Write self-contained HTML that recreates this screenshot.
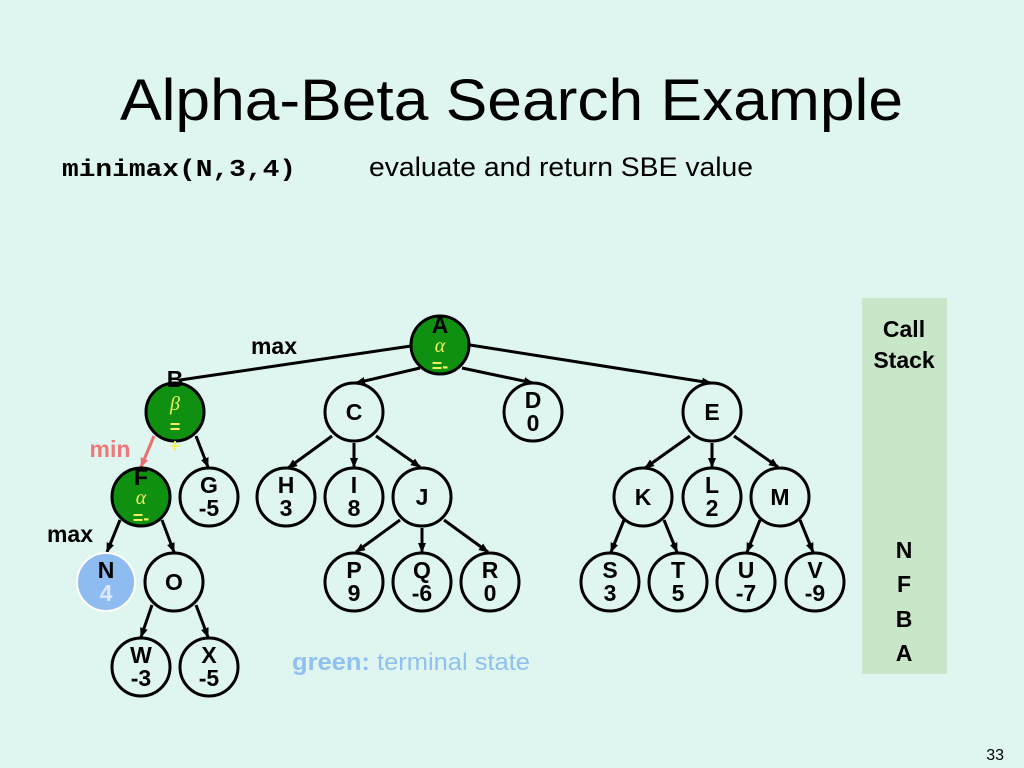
<!DOCTYPE html>
<html><head><meta charset="utf-8"><style>
html,body{margin:0;padding:0;background:#dff5f0;}
svg{display:block;}
text{font-family:"Liberation Sans",sans-serif;}
.n{font-weight:700;font-size:23px;text-anchor:middle;fill:#000;}
</style></head><body>
<svg width="1024" height="768" viewBox="0 0 1024 768" xmlns="http://www.w3.org/2000/svg">
<defs>
<marker id="ar" markerWidth="10" markerHeight="10" refX="9" refY="5" orient="auto" markerUnits="userSpaceOnUse"><path d="M0,1 L10,5 L0,9 Z" fill="#000"/></marker>
<marker id="arr" markerWidth="10" markerHeight="10" refX="9" refY="5" orient="auto" markerUnits="userSpaceOnUse"><path d="M0,1 L10,5 L0,9 Z" fill="#e87070"/></marker>
</defs>
<rect width="1024" height="768" fill="#dff5f0"/>
<text x="120" y="120" font-size="58" textLength="783" lengthAdjust="spacingAndGlyphs">Alpha-Beta Search Example</text>
<text x="62" y="176" font-weight="bold" font-size="24" textLength="234" lengthAdjust="spacingAndGlyphs" style="font-family:'Liberation Mono',monospace">minimax(N,3,4)</text>
<text x="369" y="176" font-size="27" textLength="384" lengthAdjust="spacingAndGlyphs">evaluate and return SBE value</text>
<rect x="862" y="298" width="85" height="376" fill="#c8e6c8"/>
<text class="n" x="904" y="337" font-weight="bold">Call</text>
<text class="n" x="904" y="368" font-weight="bold">Stack</text>
<text class="n" x="904" y="558" font-weight="bold">N</text>
<text class="n" x="904" y="592" font-weight="bold">F</text>
<text class="n" x="904" y="627" font-weight="bold">B</text>
<text class="n" x="904" y="661" font-weight="bold">A</text>
<text class="n" x="274" y="354" font-weight="bold">max</text>
<text class="n" x="110" y="457" font-weight="bold" style="fill:#f07878">min</text>
<text class="n" x="70" y="542" font-weight="bold">max</text>
<g stroke="#000" stroke-width="3" fill="none">
<line x1="411" y1="346" x2="180" y2="380"/>
<line x1="420" y1="368" x2="356" y2="383" marker-end="url(#ar)"/>
<line x1="462" y1="368" x2="533" y2="383" marker-end="url(#ar)"/>
<line x1="470" y1="345" x2="711" y2="383" marker-end="url(#ar)"/>
<line x1="196" y1="436" x2="208" y2="467" marker-end="url(#ar)"/>
<line x1="332" y1="436" x2="288" y2="468" marker-end="url(#ar)"/>
<line x1="354" y1="443" x2="354" y2="467" marker-end="url(#ar)"/>
<line x1="376" y1="436" x2="420" y2="467" marker-end="url(#ar)"/>
<line x1="690" y1="436" x2="645" y2="468" marker-end="url(#ar)"/>
<line x1="712" y1="443" x2="712" y2="467" marker-end="url(#ar)"/>
<line x1="734" y1="436" x2="778" y2="467" marker-end="url(#ar)"/>
<line x1="120" y1="520" x2="107" y2="552" marker-end="url(#ar)"/>
<line x1="162" y1="520" x2="174" y2="552" marker-end="url(#ar)"/>
<line x1="400" y1="520" x2="356" y2="552" marker-end="url(#ar)"/>
<line x1="422" y1="528" x2="422" y2="552" marker-end="url(#ar)"/>
<line x1="444" y1="520" x2="488" y2="552" marker-end="url(#ar)"/>
<line x1="624" y1="520" x2="611" y2="552" marker-end="url(#ar)"/>
<line x1="664" y1="520" x2="677" y2="552" marker-end="url(#ar)"/>
<line x1="760" y1="520" x2="747" y2="552" marker-end="url(#ar)"/>
<line x1="800" y1="520" x2="813" y2="552" marker-end="url(#ar)"/>
<line x1="152" y1="605" x2="141" y2="637" marker-end="url(#ar)"/>
<line x1="196" y1="605" x2="208" y2="637" marker-end="url(#ar)"/>
</g>
<line x1="154" y1="436" x2="141" y2="467" stroke="#e87070" stroke-width="3" marker-end="url(#arr)"/>
<g stroke="#000" stroke-width="3">
<circle cx="440" cy="345" r="29" fill="#109010"/>
<circle cx="175" cy="412" r="29" fill="#109010"/>
<circle cx="141" cy="497" r="29" fill="#109010"/>
<g fill="none">
<circle cx="354" cy="412" r="29"/><circle cx="533" cy="412" r="29"/><circle cx="712" cy="412" r="29"/>
<circle cx="209" cy="497" r="29"/><circle cx="286" cy="497" r="29"/><circle cx="354" cy="497" r="29"/><circle cx="422" cy="497" r="29"/>
<circle cx="643" cy="497" r="29"/><circle cx="712" cy="497" r="29"/><circle cx="780" cy="497" r="29"/>
<circle cx="174" cy="582" r="29"/><circle cx="354" cy="582" r="29"/><circle cx="422" cy="582" r="29"/><circle cx="490" cy="582" r="29"/>
<circle cx="610" cy="582" r="29"/><circle cx="678" cy="582" r="29"/><circle cx="746" cy="582" r="29"/><circle cx="815" cy="582" r="29"/>
<circle cx="141" cy="667" r="29"/><circle cx="209" cy="667" r="29"/>
</g>
</g>
<circle cx="106" cy="582" r="29" fill="#8fbcf0" stroke="#fff" stroke-width="2"/>
<g font-weight="bold">
<text class="n" x="440" y="333">A</text>
<text class="n" x="175" y="387">B</text>
<text class="n" x="141" y="485">F</text>
<text class="n" x="354" y="420">C</text>
<text class="n" x="533" y="408">D</text><text class="n" x="533" y="431">0</text>
<text class="n" x="712" y="420">E</text>
<text class="n" x="209" y="493">G</text><text class="n" x="209" y="516">-5</text>
<text class="n" x="286" y="493">H</text><text class="n" x="286" y="516">3</text>
<text class="n" x="354" y="493">I</text><text class="n" x="354" y="516">8</text>
<text class="n" x="422" y="505">J</text>
<text class="n" x="643" y="505">K</text>
<text class="n" x="712" y="493">L</text><text class="n" x="712" y="516">2</text>
<text class="n" x="780" y="505">M</text>
<text class="n" x="106" y="578">N</text><text class="n" x="106" y="601" style="fill:#dde9ff">4</text>
<text class="n" x="174" y="590">O</text>
<text class="n" x="354" y="578">P</text><text class="n" x="354" y="601">9</text>
<text class="n" x="422" y="578">Q</text><text class="n" x="422" y="601">-6</text>
<text class="n" x="490" y="578">R</text><text class="n" x="490" y="601">0</text>
<text class="n" x="610" y="578">S</text><text class="n" x="610" y="601">3</text>
<text class="n" x="678" y="578">T</text><text class="n" x="678" y="601">5</text>
<text class="n" x="746" y="578">U</text><text class="n" x="746" y="601">-7</text>
<text class="n" x="815" y="578">V</text><text class="n" x="815" y="601">-9</text>
<text class="n" x="141" y="663">W</text><text class="n" x="141" y="686">-3</text>
<text class="n" x="209" y="663">X</text><text class="n" x="209" y="686">-5</text>
</g>
<g fill="#f0f060" text-anchor="middle" font-size="20" font-style="italic">
<text x="440" y="352" style="font-family:'Liberation Serif',serif">α</text>
<text x="175" y="410" style="font-family:'Liberation Serif',serif">β</text>
<text x="141" y="504" style="font-family:'Liberation Serif',serif">α</text>
</g>
<g fill="#f0f060" text-anchor="middle" font-size="18" font-weight="bold">
<text x="440" y="372">=-</text>
<text x="175" y="433">=</text>
<text x="175" y="452">+</text>
<text x="141" y="524">=-</text>
</g>
<text x="292" y="670" font-size="24" fill="#90c0f0" textLength="238" lengthAdjust="spacingAndGlyphs"><tspan font-weight="bold">green:</tspan> terminal state</text>
<text x="1004" y="760" font-size="16" text-anchor="end">33</text>
</svg>
</body></html>
